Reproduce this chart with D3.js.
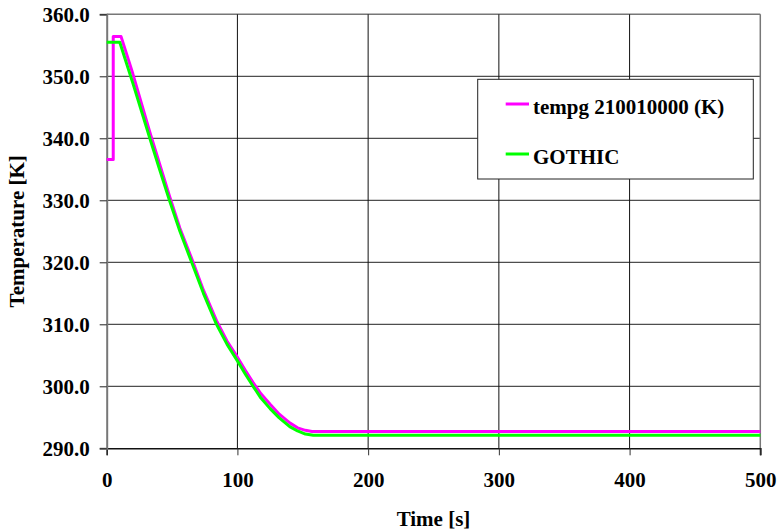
<!DOCTYPE html>
<html><head><meta charset="utf-8">
<script src="https://cdn.jsdelivr.net/npm/d3@7"></script>
<style>body{margin:0;background:#fff}svg{display:block}</style>
</head><body>
<svg id="c" width="779" height="530"></svg>
<script>
const xTicks = [0, 100, 200, 300, 400, 500];
const yTicks = [290, 300, 310, 320, 330, 340, 350, 360];
const seriesNames = ["tempg 210010000 (K)", "GOTHIC"];
const tempgTime = [0, 5, 5, 11, 20, 33, 40, 48, 56, 65, 74, 84, 92, 100, 106, 112, 118, 125, 132, 140, 146, 152, 157, 500];
const tempgVal  = [336.6, 336.6, 356.4, 356.4, 350.4, 341.0, 336.2, 330.7, 325.5, 320.6, 315.5, 310.6, 307.3, 304.7, 302.6, 300.6, 298.8, 297.1, 295.5, 294.1, 293.3, 292.9, 292.7, 292.7];
const gothicTime = [0, 10, 20, 33, 40, 48, 56, 65, 74, 84, 92, 100, 106, 112, 118, 125, 132, 140, 146, 152, 158, 500];
const gothicVal  = [355.5, 355.5, 348.9, 340.0, 335.3, 330.0, 325.0, 320.0, 315.0, 310.0, 306.8, 304.1, 302.0, 300.0, 298.1, 296.4, 294.9, 293.5, 292.8, 292.3, 292.1, 292.1];

const svg = d3.select("#c");
const L = 106.7, R = 760.3, T = 14.3, B = 448.3;
const x = d3.scaleLinear().domain([0, 500]).range([L, R]);
const y = d3.scaleLinear().domain([290, 360]).range([B, T]);
const font = "'Liberation Serif','Times New Roman',serif";

// gridlines
svg.append("g").selectAll("line").data(yTicks.filter(d => d > 290)).join("line")
  .attr("x1", L).attr("x2", R).attr("y1", d => y(d)).attr("y2", d => y(d))
  .attr("stroke", d => d === 360 ? "#777" : "#222").attr("stroke-width", d => d === 360 ? 1.5 : 1);
svg.append("g").selectAll("line").data(xTicks.filter(d => d > 0 && d < 500)).join("line")
  .attr("x1", d => x(d)).attr("x2", d => x(d)).attr("y1", T).attr("y2", B)
  .attr("stroke", "#111").attr("stroke-width", 1);
// right border
svg.append("line").attr("x1", R).attr("x2", R).attr("y1", T).attr("y2", B + 7)
  .attr("stroke", "#777").attr("stroke-width", 1.5);

// axes
const yAxis = d3.axisLeft(y).tickValues(yTicks).tickSize(7).tickPadding(10).tickFormat(d3.format(".1f"));
const gy = svg.append("g").attr("transform", `translate(${L},0)`).call(yAxis);
gy.select(".domain").attr("stroke", "#777").attr("stroke-width", 2);
gy.selectAll(".tick line").attr("stroke", "#222");
gy.selectAll("text").attr("font-family", font).attr("font-weight", "bold").attr("font-size", 21).attr("fill", "#000");

const xAxis = d3.axisBottom(x).tickValues(xTicks).tickSize(7).tickPadding(17).tickFormat(d3.format("d"));
const gx = svg.append("g").attr("transform", `translate(0,${B})`).call(xAxis);
gx.select(".domain").attr("stroke", "#111").attr("stroke-width", 1.5);
gx.selectAll(".tick line").attr("stroke", "#333");
gx.selectAll("text").attr("font-family", font).attr("font-weight", "bold").attr("font-size", 21).attr("fill", "#000");
gy.raise();

// series
const line = d3.line().x(d => x(d[0])).y(d => y(d[1]));
const tempg = tempgTime.map((t, i) => [t, tempgVal[i]]);
const gothic = gothicTime.map((t, i) => [t, gothicVal[i]]);
svg.append("path").datum(tempg).attr("d", line).attr("fill", "none").attr("stroke", "#ff00ff").attr("stroke-width", 3).attr("stroke-linejoin", "round");
svg.append("path").datum(gothic).attr("d", line).attr("fill", "none").attr("stroke", "#00ff00").attr("stroke-width", 3).attr("stroke-linejoin", "round");

// axis titles
svg.append("text").attr("x", (L + R) / 2).attr("y", 526).attr("text-anchor", "middle")
  .attr("font-family", font).attr("font-weight", "bold").attr("font-size", 21).text("Time [s]");
svg.append("text").attr("transform", `translate(24,${(T + B) / 2}) rotate(-90)`).attr("text-anchor", "middle")
  .attr("font-family", font).attr("font-weight", "bold").attr("font-size", 21).text("Temperature [K]");

// legend
const lg = svg.append("g");
lg.append("rect").attr("x", 477.7).attr("y", 79.3).attr("width", 275.6).attr("height", 99.7)
  .attr("fill", "#fff").attr("stroke", "#222").attr("stroke-width", 1);
const colors = ["#ff00ff", "#00ff00"];
const rowY = [104, 154];
seriesNames.forEach((n, i) => {
  lg.append("line").attr("x1", 505.7).attr("x2", 529).attr("y1", rowY[i]).attr("y2", rowY[i])
    .attr("stroke", colors[i]).attr("stroke-width", 3);
  lg.append("text").attr("x", 533).attr("y", rowY[i] + 10).attr("font-family", font)
    .attr("font-weight", "bold").attr("font-size", 21).text(n);
});
</script>
</body></html>
